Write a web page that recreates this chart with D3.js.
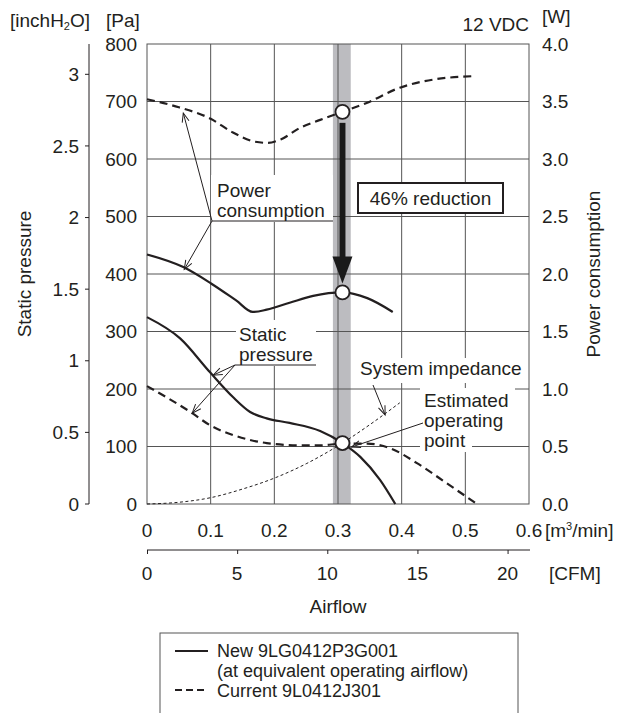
<!DOCTYPE html>
<html>
<head>
<meta charset="utf-8">
<script src="https://cdn.jsdelivr.net/npm/d3@7"></script>
<style>
    body { margin: 0; background: #fff; }
    svg text { font-family: "Liberation Sans", Arial, sans-serif; font-size: 19px; fill: #231f20; }
    svg text.legend { font-size: 18px; }
</style>
</head>
<body>
<div id="chart"></div>
<script>
// Airflow [m3/min] and static pressure [Pa] of the new fan (solid)
const staticNewX  = [0, 0.052, 0.099, 0.135, 0.162, 0.188, 0.224, 0.272, 0.307, 0.335, 0.366, 0.39];
const staticNewPa = [325, 288, 229, 186, 160, 149, 141, 127, 106, 82, 42, 0];

// Static pressure of the current fan (dashed)
const staticCurX  = [0, 0.071, 0.099, 0.135, 0.188, 0.24, 0.272, 0.307, 0.346, 0.382, 0.424, 0.471, 0.518];
const staticCurPa = [205, 158, 137, 120, 106, 102, 102, 105, 105, 97, 71, 36, 0];

// System impedance curve (fine dotted)
const impedX  = [0, 0.05, 0.1, 0.15, 0.2, 0.25, 0.307, 0.35, 0.397];
const impedPa = [0, 3, 11, 26, 45, 70, 106, 138, 176];

// Power consumption [W]
const powerNewX = [0, 0.057, 0.1, 0.14, 0.166, 0.188, 0.224, 0.261, 0.307, 0.346, 0.386];
const powerNewW = [2.17, 2.06, 1.92, 1.77, 1.67, 1.69, 1.75, 1.81, 1.84, 1.79, 1.67];
const powerCurX = [0, 0.05, 0.1, 0.135, 0.17, 0.19, 0.21, 0.24, 0.272, 0.307, 0.346, 0.397, 0.449, 0.512];
const powerCurW = [3.52, 3.45, 3.35, 3.23, 3.15, 3.14, 3.17, 3.27, 3.34, 3.41, 3.49, 3.62, 3.69, 3.72];

// Operating point and the grey band around it
const opX = 0.307;
const opPa = 106;
const opPowerNew = 1.84;
const opPowerCur = 3.41;
const bandX = [0.292, 0.32];

// Tick labels
const paTicks   = [0, 100, 200, 300, 400, 500, 600, 700, 800];
const inchTicks = [0, 0.5, 1, 1.5, 2, 2.5, 3];
const wattTicks = [0, 0.5, 1, 1.5, 2, 2.5, 3, 3.5, 4];
const m3Ticks   = [0, 0.1, 0.2, 0.3, 0.4, 0.5, 0.6];
const cfmTicks  = [0, 5, 10, 15, 20];

const PA_PER_INCH = 249.089;
const M3_PER_CFM = 0.0283168;

const width = 627, height = 713;
const plot = { left: 147, right: 529, top: 44, bottom: 504 };
const ink = "#231f20";
const gridColor = "#555";

const svg = d3.select("#chart").append("svg")
    .attr("width", width)
    .attr("height", height);

// Scales
const x = d3.scaleLinear().domain([0, 0.6]).range([plot.left, plot.right]);
const y = d3.scaleLinear().domain([0, 800]).range([plot.bottom, plot.top]);
const yInch = d3.scaleLinear().domain([0, 800 / PA_PER_INCH]).range([plot.bottom, plot.top]);
const yW = d3.scaleLinear().domain([0, 4]).range([plot.bottom, plot.top]);
const xCfm = d3.scaleLinear().domain([0, 0.6 / M3_PER_CFM]).range([plot.left, plot.right]);

// Arrow marker for the leader lines
svg.append("defs").append("marker")
    .attr("id", "open-arrow")
    .attr("viewBox", "-10 -5 12 10")
    .attr("refX", 0).attr("refY", 0)
    .attr("markerWidth", 12).attr("markerHeight", 10)
    .attr("markerUnits", "userSpaceOnUse")
    .attr("orient", "auto")
    .append("path")
    .attr("d", "M-9,-3.5 L0,0 L-9,3.5")
    .attr("fill", "none")
    .attr("stroke", ink)
    .attr("stroke-width", 1);

// Grey band at the operating airflow
svg.append("rect")
    .attr("x", x(bandX[0]))
    .attr("y", plot.top)
    .attr("width", x(bandX[1]) - x(bandX[0]))
    .attr("height", plot.bottom - plot.top)
    .attr("fill", "#bcbcc0");

// Grid
const grid = svg.append("g").attr("stroke", gridColor).attr("stroke-width", 1);
grid.selectAll(".vgrid")
    .data(m3Ticks.slice(1, -1))
    .enter().append("line")
    .attr("x1", d => x(d)).attr("x2", d => x(d))
    .attr("y1", plot.top).attr("y2", plot.bottom);
grid.selectAll(".hgrid")
    .data(paTicks.slice(1, -1))
    .enter().append("line")
    .attr("x1", plot.left).attr("x2", plot.right)
    .attr("y1", d => y(d)).attr("y2", d => y(d));
grid.append("rect")
    .attr("x", plot.left).attr("y", plot.top)
    .attr("width", plot.right - plot.left)
    .attr("height", plot.bottom - plot.top)
    .attr("fill", "none");

// White patches behind the annotations (they cut the grid)
const masks = [
    [211, 175, 122, 47],
    [236, 320, 80, 46],
    [357, 358, 168, 25],
    [420, 388, 95, 44],
    [420, 432, 52, 20]
];
svg.selectAll(".mask")
    .data(masks)
    .enter().append("rect")
    .attr("x", d => d[0]).attr("y", d => d[1])
    .attr("width", d => d[2]).attr("height", d => d[3])
    .attr("fill", "#fff");

// Curves
function drawCurve(xs, ys, yScale, dash, strokeWidth) {
    const pts = xs.map((v, i) => [x(v), yScale(ys[i])]);
    svg.append("path")
        .attr("d", d3.line().curve(d3.curveMonotoneX)(pts))
        .attr("fill", "none")
        .attr("stroke", ink)
        .attr("stroke-width", strokeWidth)
        .attr("stroke-dasharray", dash);
}

drawCurve(impedX, impedPa, y, "3,2.5", 1);
drawCurve(staticCurX, staticCurPa, y, "8,5", 2.2);
drawCurve(staticNewX, staticNewPa, y, null, 2.2);
drawCurve(powerCurX, powerCurW, yW, "8,5", 2.2);
drawCurve(powerNewX, powerNewW, yW, null, 2.2);

// Thick arrow showing the power reduction
const ax = x(opX);
const headTop = yW(opPowerNew) - 36;
svg.append("rect")
    .attr("x", ax - 3).attr("y", yW(opPowerCur) + 11)
    .attr("width", 6).attr("height", headTop - yW(opPowerCur) - 10)
    .attr("fill", "#1a1a1a");
svg.append("path")
    .attr("d", `M${ax - 10},${headTop} L${ax + 10},${headTop} L${ax},${yW(opPowerNew) - 9} Z`)
    .attr("fill", "#1a1a1a");

// Operating point circles
const circles = [[opX, yW(opPowerCur)], [opX, yW(opPowerNew)], [opX, y(opPa)]];
svg.selectAll(".op")
    .data(circles)
    .enter().append("circle")
    .attr("cx", d => x(d[0])).attr("cy", d => d[1])
    .attr("r", 7)
    .attr("fill", "#fff")
    .attr("stroke", ink)
    .attr("stroke-width", 1.8);

// "46% reduction" box
svg.append("rect")
    .attr("x", 358).attr("y", 183)
    .attr("width", 145).attr("height", 30)
    .attr("fill", "#fff")
    .attr("stroke", ink)
    .attr("stroke-width", 2);
svg.append("text")
    .attr("x", 430.5).attr("y", 205)
    .attr("text-anchor", "middle")
    .text("46% reduction");

// Leader lines with their labels
function leader(x1, y1, x2, y2) {
    svg.append("line")
        .attr("x1", x1).attr("y1", y1)
        .attr("x2", x2).attr("y2", y2)
        .attr("stroke", ink)
        .attr("stroke-width", 1)
        .attr("marker-end", "url(#open-arrow)");
}
function plainLine(x1, y1, x2, y2) {
    svg.append("line")
        .attr("x1", x1).attr("y1", y1)
        .attr("x2", x2).attr("y2", y2)
        .attr("stroke", ink)
        .attr("stroke-width", 1);
}
function label(lines, x0, y0, step, cls) {
    lines.forEach((t, i) => {
        svg.append("text")
            .attr("class", cls || null)
            .attr("x", x0).attr("y", y0 + i * step)
            .text(t);
    });
}

// Power consumption
label(["Power", "consumption"], 217, 197, 20);
plainLine(212, 221, 333, 221);
leader(212, 221, x(0.057), yW(3.40));
leader(212, 221, x(0.057) + 1, yW(2.04));

// Static pressure
label(["Static", "pressure"], 239, 341, 20);
plainLine(235, 365, 316, 365);
leader(235, 365, x(0.104), y(224));
leader(235, 365, x(0.071), y(158));

// System impedance
label(["System impedance"], 360, 375, 20);
leader(373, 385, x(0.374), y(155));

// Estimated operating point
label(["Estimated", "operating", "point"], 424, 407, 20);
leader(423, 423, x(opX) + 9, y(opPa) + 4);

// Left inchH2O axis
const inchAxis = svg.append("g");
inchAxis.append("line")
    .attr("x1", 89).attr("x2", 89)
    .attr("y1", plot.top).attr("y2", plot.bottom)
    .attr("stroke", ink);
inchAxis.selectAll(".tick")
    .data(inchTicks)
    .enter().append("line")
    .attr("x1", 85).attr("x2", 89)
    .attr("y1", d => yInch(d)).attr("y2", d => yInch(d))
    .attr("stroke", ink);
inchAxis.selectAll(".lab")
    .data(inchTicks)
    .enter().append("text")
    .attr("x", 79).attr("y", d => yInch(d))
    .attr("dy", "0.35em")
    .attr("text-anchor", "end")
    .text(d => d);

// Pa labels
svg.selectAll(".pa")
    .data(paTicks)
    .enter().append("text")
    .attr("x", 137).attr("y", d => y(d))
    .attr("dy", "0.35em")
    .attr("text-anchor", "end")
    .text(d => d);

// W labels on the right
svg.selectAll(".w")
    .data(wattTicks)
    .enter().append("text")
    .attr("x", 542).attr("y", d => yW(d))
    .attr("dy", "0.35em")
    .text(d => d.toFixed(1));

// Airflow m3/min labels
svg.selectAll(".m3")
    .data(m3Ticks)
    .enter().append("text")
    .attr("x", d => x(d)).attr("y", 537)
    .attr("text-anchor", "middle")
    .text(d => d);
const m3Unit = svg.append("text").attr("x", 545).attr("y", 537);
m3Unit.append("tspan").text("[m");
m3Unit.append("tspan").attr("font-size", "11px").attr("dy", -7).text("3");
m3Unit.append("tspan").attr("dy", 7).text("/min]");

// CFM axis
svg.append("g")
    .attr("transform", "translate(0,550)")
    .call(d3.axisBottom(xCfm).tickValues(cfmTicks).tickSize(4).tickSizeOuter(0).tickFormat(""))
    .call(g => g.select(".domain").attr("stroke", ink).attr("d", `M${plot.left},0H530`))
    .call(g => g.selectAll(".tick line").attr("stroke", ink));
svg.selectAll(".cfm")
    .data(cfmTicks)
    .enter().append("text")
    .attr("x", d => xCfm(d)).attr("y", 580)
    .attr("text-anchor", "middle")
    .text(d => d);
svg.append("text").attr("x", 549).attr("y", 580).text("[CFM]");
svg.append("text").attr("x", 338).attr("y", 613).attr("text-anchor", "middle").text("Airflow");

// Units and titles
const inchUnit = svg.append("text").attr("x", 10).attr("y", 27);
inchUnit.append("tspan").text("[inchH");
inchUnit.append("tspan").attr("font-size", "11px").attr("dy", 3).text("2");
inchUnit.append("tspan").attr("dy", -3).text("O]");
svg.append("text").attr("x", 106).attr("y", 27).text("[Pa]");
svg.append("text").attr("x", 529).attr("y", 31).attr("text-anchor", "end").text("12 VDC");
svg.append("text").attr("x", 542).attr("y", 23).text("[W]");

svg.append("text")
    .attr("transform", `translate(31, ${(plot.top + plot.bottom) / 2}) rotate(-90)`)
    .attr("text-anchor", "middle")
    .text("Static pressure");
svg.append("text")
    .attr("transform", `translate(600, ${(plot.top + plot.bottom) / 2}) rotate(-90)`)
    .attr("text-anchor", "middle")
    .text("Power consumption");

// Legend
svg.append("rect")
    .attr("x", 160).attr("y", 633)
    .attr("width", 358).attr("height", 100)
    .attr("fill", "none")
    .attr("stroke", gridColor);
svg.append("line")
    .attr("x1", 175).attr("x2", 208).attr("y1", 651).attr("y2", 651)
    .attr("stroke", ink).attr("stroke-width", 2);
svg.append("line")
    .attr("x1", 175).attr("x2", 208).attr("y1", 690).attr("y2", 690)
    .attr("stroke", ink).attr("stroke-width", 2)
    .attr("stroke-dasharray", "7,4");
label(["New 9LG0412P3G001", "(at equivalent operating airflow)"], 217, 657, 20, "legend");
label(["Current 9L0412J301"], 217, 697, 20, "legend");
</script>
</body>
</html>
